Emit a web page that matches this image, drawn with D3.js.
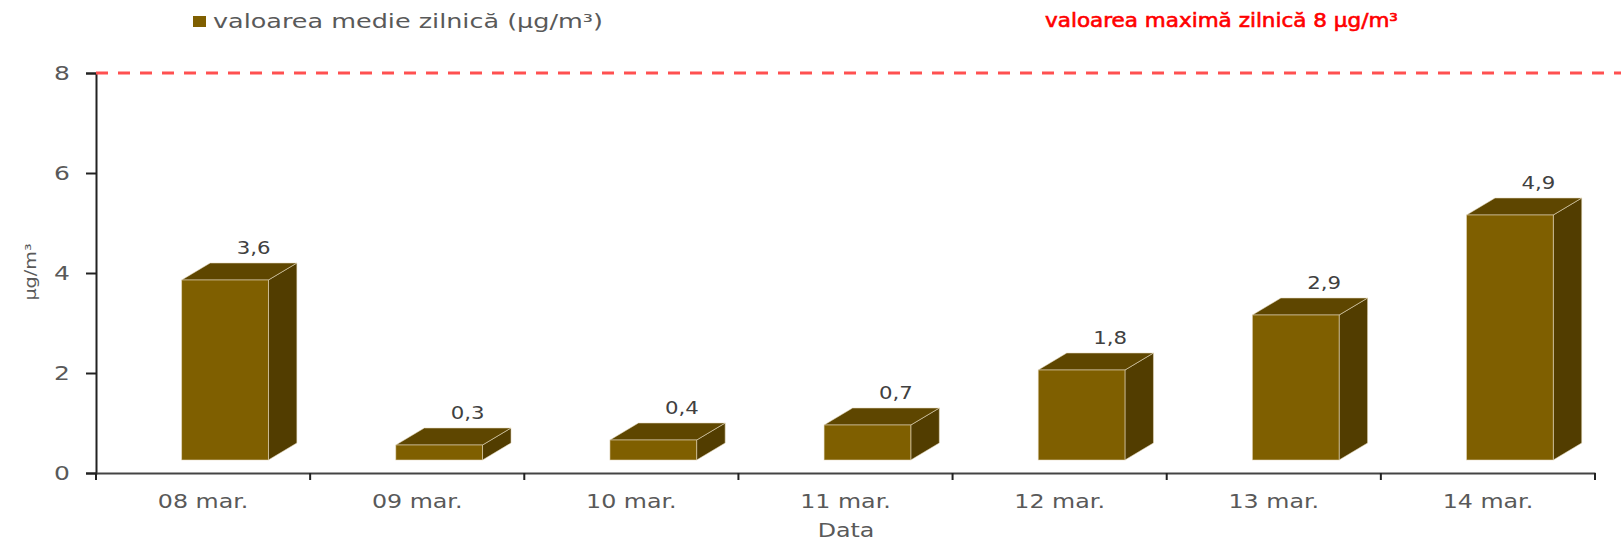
<!DOCTYPE html>
<html lang="ro">
<head>
<meta charset="utf-8">
<title>Valoarea medie zilnică</title>
<script src="https://d3js.org/d3.v7.min.js"></script>
<style>
  body { margin: 0; background: #fff; }
  svg text { font-family: "DejaVu Sans", Verdana, sans-serif; }
</style>
</head>
<body>
<div id="chart"></div>
<script>
// data
var days = ["08 mar.", "09 mar.", "10 mar.", "11 mar.", "12 mar.", "13 mar.", "14 mar."];
var dailyMean = [3.6, 0.3, 0.4, 0.7, 1.8, 2.9, 4.9];
var yTicks = [0, 2, 4, 6, 8];
var dailyLimit = 8;

var W = 1621, H = 543;
var margin = {top: 73, right: 26, bottom: 70, left: 96};
var SX = 1.25; // the original text is stretched sideways

var svg = d3.select("#chart").append("svg")
    .attr("width", W)
    .attr("height", H);

var x = d3.scaleBand()
    .domain(days)
    .range([margin.left, W - margin.right])
    .padding(0);

var y = d3.scaleLinear()
    .domain([0, 8])
    .range([H - margin.bottom, margin.top]);

var fmt = function(v) { return d3.format(".1f")(v).replace(".", ","); };

// put a stretched text at (px, py)
function label(px, py, txt, anchor, size, fill) {
    return svg.append("text")
        .attr("transform", "translate(" + px + "," + py + ") scale(" + SX + ",1)")
        .attr("text-anchor", anchor)
        .attr("fill", fill)
        .style("font-size", size + "px")
        .text(txt);
}

// 3d look of the bars
var floor = 13, dx = 28.5, dy = 17;
var barOff = 0.40, barW = 0.405;

// y axis
var yAxis = svg.append("g")
    .attr("transform", "translate(" + margin.left + ",0)")
    .call(d3.axisLeft(y).tickValues(yTicks).tickSize(10).tickFormat(d3.format("d")));
yAxis.select(".domain").attr("stroke", "#222").attr("stroke-width", 2);
yAxis.selectAll(".tick line").attr("stroke", "#222").attr("stroke-width", 2);
yAxis.selectAll(".tick text")
    .attr("x", 0)
    .attr("transform", "translate(-26,0) scale(" + SX + ",1)")
    .attr("fill", "#595959")
    .style("font-size", "20px")
    .style("font-family", "'DejaVu Sans', sans-serif");

// x axis
var xAxis = svg.append("g")
    .attr("transform", "translate(0," + y(0) + ")")
    .call(d3.axisBottom(x).tickSize(0).tickPadding(22));
xAxis.select(".domain").attr("stroke", "#444").attr("stroke-width", 2);
xAxis.selectAll(".tick text")
    .attr("transform", "scale(" + SX + ",1)")
    .attr("fill", "#595959")
    .style("font-size", "19px")
    .style("font-family", "'DejaVu Sans', sans-serif");

// tick marks between categories
var edges = days.map(function(d) { return x(d); }).concat([x.range()[1]]);
svg.append("g").selectAll("line")
    .data(edges)
    .join("line")
    .attr("x1", function(d) { return d; })
    .attr("x2", function(d) { return d; })
    .attr("y1", y(0))
    .attr("y2", y(0) + 7)
    .attr("stroke", "#222")
    .attr("stroke-width", 2);

// bars
var bars = svg.append("g").selectAll("g")
    .data(dailyMean)
    .join("g");

function bx(i) { return x(days[i]) + x.bandwidth() * barOff; }
var bw = x.bandwidth() * barW;

// side face
bars.append("path")
    .attr("d", function(d, i) {
        var x0 = bx(i) + bw, t = y(d) - floor, b = y(0) - floor;
        return "M" + x0 + "," + t + "L" + (x0 + dx) + "," + (t - dy) +
               "L" + (x0 + dx) + "," + (b - dy) + "L" + x0 + "," + b + "Z";
    })
    .attr("fill", "#523d00")
    .attr("stroke", "#e8dcc0").attr("stroke-width", 0.8).attr("stroke-opacity", 0.7);

// top face
bars.append("path")
    .attr("d", function(d, i) {
        var x0 = bx(i), t = y(d) - floor;
        return "M" + x0 + "," + t + "L" + (x0 + dx) + "," + (t - dy) +
               "L" + (x0 + bw + dx) + "," + (t - dy) + "L" + (x0 + bw) + "," + t + "Z";
    })
    .attr("fill", "#5e4600")
    .attr("stroke", "#e8dcc0").attr("stroke-width", 0.8).attr("stroke-opacity", 0.7);

// front face
bars.append("rect")
    .attr("x", function(d, i) { return bx(i); })
    .attr("y", function(d) { return y(d) - floor; })
    .attr("width", bw)
    .attr("height", function(d) { return y(0) - y(d); })
    .attr("fill", "#7f5f00")
    .attr("stroke", "#e8dcc0").attr("stroke-width", 0.8).attr("stroke-opacity", 0.7);

// value labels
dailyMean.forEach(function(d, i) {
    label(bx(i) + bw / 2 + dx, y(d) - floor - dy - 9, fmt(d), "middle", 17, "#404040");
});

// daily limit line
svg.append("line")
    .attr("x1", margin.left)
    .attr("x2", W)
    .attr("y1", y(dailyLimit))
    .attr("y2", y(dailyLimit))
    .attr("stroke", "#ff5050")
    .attr("stroke-width", 3)
    .attr("stroke-dasharray", "12,10");

// legend
svg.append("rect")
    .attr("x", 193).attr("y", 16)
    .attr("width", 13).attr("height", 11)
    .attr("fill", "#7f5f00");
svg.append("text")
    .attr("x", 213).attr("y", 28)
    .attr("fill", "#595959")
    .style("font-size", "19px")
    .attr("textLength", 390)
    .attr("lengthAdjust", "spacingAndGlyphs")
    .text("valoarea medie zilnică (µg/m³)");

svg.append("text")
    .attr("x", 1045).attr("y", 27)
    .attr("fill", "#ff0000")
    .attr("stroke", "#ff0000")
    .attr("stroke-width", 0.6)
    .style("font-size", "19px")
    .attr("textLength", 353)
    .attr("lengthAdjust", "spacingAndGlyphs")
    .text("valoarea maximă zilnică " + dailyLimit + " µg/m³");

// axis titles
label(846, 537, "Data", "middle", 19, "#595959");

svg.append("text")
    .attr("transform", "translate(36,272) rotate(-90) scale(1.2,1)")
    .attr("text-anchor", "middle")
    .attr("fill", "#595959")
    .style("font-size", "16px")
    .text("µg/m³");
</script>
</body>
</html>
